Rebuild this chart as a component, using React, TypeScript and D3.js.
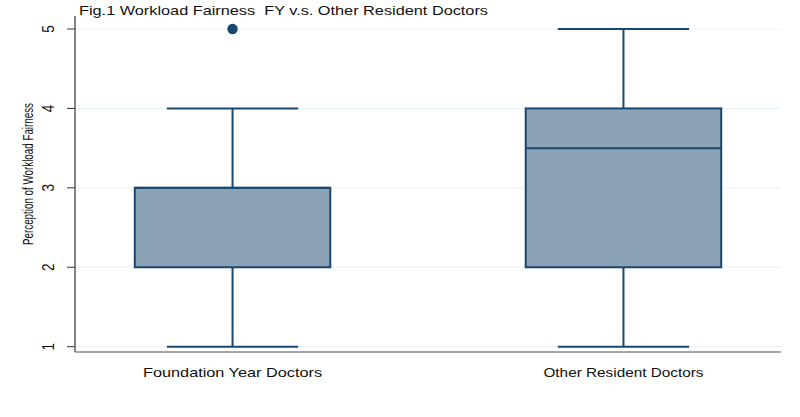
import React from "react";
import * as d3 from "d3";

const categories = ["Foundation Year Doctors", "Other Resident Doctors"];
const mins = [1, 1];
const q1s = [2, 2];
const medians = [3, 3.5];
const q3s = [3, 4];
const maxs = [4, 5];
const outliers = [[5], []];
const yTicks = [1, 2, 3, 4, 5];
const title = "Fig.1 Workload Fairness  FY v.s. Other Resident Doctors";
const yTitle = "Perception of Workload Fairness";

const W = 800, H = 417;
const left = 75, right = 781, top = 29, bottom = 346.7, axisY = 352;
const navy = "#1a476f";
const xLabelLen = [179, 160];

export default function App() {
  const x = d3.scalePoint<string>().domain(categories).range([left, right]).padding(0.403);
  const y = d3.scaleLinear().domain([1, 5]).range([bottom, top]);
  const step = x.step();
  const boxW = step * 0.5;
  const capHalf = step * 0.168;
  return (
    <svg width={W} height={H} style={{ position: "absolute", left: 0, top: 0, background: "#fff" }}
      fontFamily="'Liberation Sans', Arial, sans-serif">
      <rect width={W} height={H} fill="#fff" />
      {yTicks.map(t => (
        <g key={t}>
          <line x1={left} x2={right} y1={y(t)} y2={y(t)} stroke="#eaf2f3" strokeWidth={1} />
          <line x1={left - 8} x2={left} y1={y(t)} y2={y(t)} stroke="#333" strokeWidth={1} />
          <text transform={`translate(54,${y(t)}) rotate(-90) scale(1,1.25)`} textAnchor="middle" fontSize={13.5} fill="#111">{t}</text>
        </g>
      ))}
      <line x1={left} x2={left} y1={16} y2={axisY} stroke="#333" strokeWidth={1.2} />
      <line x1={left} x2={right} y1={axisY} y2={axisY} stroke="#888" strokeWidth={1.5} />
      {categories.map((c, i) => {
        const cx = x(c)!;
        return (
          <g key={c}>
            <line x1={cx} x2={cx} y1={y(q3s[i])} y2={y(maxs[i])} stroke={navy} strokeWidth={2} />
            <line x1={cx} x2={cx} y1={y(q1s[i])} y2={y(mins[i])} stroke={navy} strokeWidth={2} />
            <line x1={cx - capHalf} x2={cx + capHalf} y1={y(maxs[i])} y2={y(maxs[i])} stroke={navy} strokeWidth={2} />
            <line x1={cx - capHalf} x2={cx + capHalf} y1={y(mins[i])} y2={y(mins[i])} stroke={navy} strokeWidth={2} />
            <rect x={cx - boxW / 2} y={y(q3s[i])} width={boxW} height={y(q1s[i]) - y(q3s[i])} fill="#8ca2b7" stroke={navy} strokeWidth={2} />
            <line x1={cx - boxW / 2} x2={cx + boxW / 2} y1={y(medians[i])} y2={y(medians[i])} stroke={navy} strokeWidth={2} />
            {outliers[i].map((o, j) => (
              <circle key={j} cx={cx} cy={y(o)} r={5.2} fill={navy} />
            ))}
            <text x={cx} y={377} textAnchor="middle" fontSize={13} fill="#111"
              textLength={xLabelLen[i]} lengthAdjust="spacingAndGlyphs">{c}</text>
          </g>
        );
      })}
      <text transform={`translate(33,174) rotate(-90) scale(1,1.15)`} textAnchor="middle" fontSize={12}
        textLength={142} lengthAdjust="spacingAndGlyphs" fill="#111">{yTitle}</text>
      <text x={79} y={15} fontSize={12.8} fill="#111" style={{ whiteSpace: "pre" }}
        textLength={409} lengthAdjust="spacingAndGlyphs">{title}</text>
    </svg>
  );
}
